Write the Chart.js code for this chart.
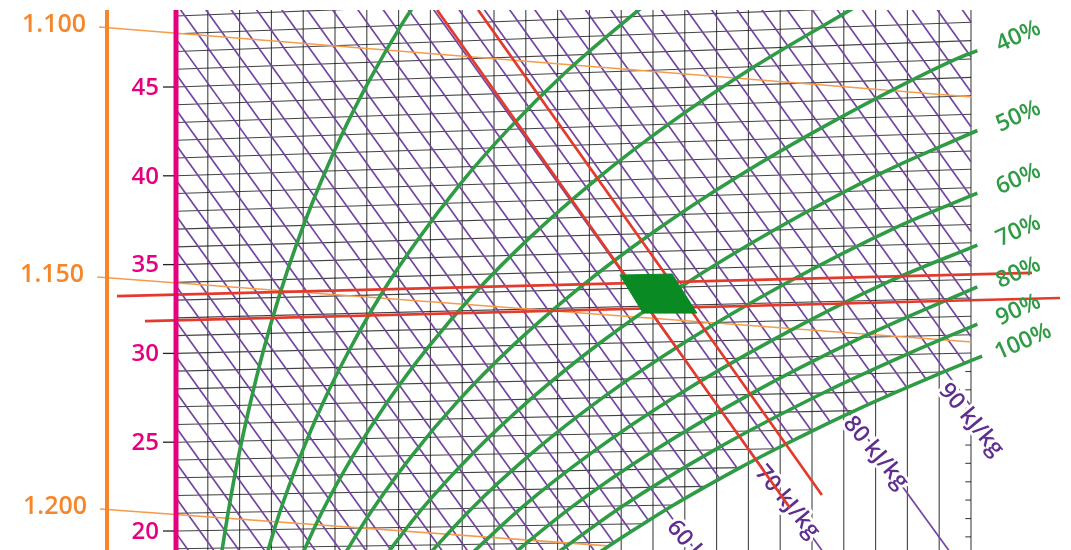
<!DOCTYPE html>
<html>
<head>
<meta charset="utf-8">
<title>h-x Diagramm</title>
<script src="https://cdn.jsdelivr.net/npm/chart.js@4.4.1/dist/chart.umd.min.js"></script>
<style>
  html, body { margin: 0; padding: 0; background: #ffffff; }
  canvas { display: block; }
</style>
</head>
<body>
<canvas id="hx" width="1071" height="550"></canvas>
<script>
// Section of a Mollier h-x diagram.
// x: humidity ratio (g/kg dry air), y: temperature axis (°C).

// Temperature axis labels (°C)
const tempTicks = [20, 25, 30, 35, 40, 45];

// Isotherms: start on the temperature axis (x = 0), end at saturation or at the chart edge
const isoTemps = [19, 20, 21, 22, 23, 24, 25, 26, 27, 28, 29, 30, 31, 32, 33, 34, 35, 36, 37, 38, 39, 40, 41, 42, 43, 44, 45, 46, 47, 48, 49];
const isoEndX = [13.79, 14.70, 15.65, 16.67, 17.74, 18.88, 20.08, 21.35, 22.70, 24.12,
                 25, 25, 25, 25, 25, 25, 25, 25, 25, 25, 25, 25, 25, 25, 25, 25, 25, 25, 25, 25, 25];
const isoEndY = [19.37, 20.41, 21.46, 22.51, 23.57, 24.63, 25.70, 26.78, 27.86, 28.95,
                 30.02, 31.05, 32.09, 33.12, 34.16, 35.19, 36.23, 37.26, 38.30, 39.33, 40.37,
                 41.40, 42.44, 43.47, 44.51, 45.54, 46.58, 47.61, 48.65, 49.68, 50.72];

// Temperature marks on the right border, below saturation
const rightTickY = [19.67, 20.70, 21.74, 22.77, 23.81, 24.84, 25.88, 26.91, 27.95, 28.98];

// Humidity ratio grid (g/kg)
const humidityGrid = [1, 2, 3, 4, 5, 6, 7, 8, 9, 10, 11, 12, 13, 14, 15, 16, 17, 18, 19, 20, 21, 22, 23, 24, 25];

// Enthalpy lines (kJ/kg), every 2 kJ/kg
const enthalpyValues = [20, 22, 24, 26, 28, 30, 32, 34, 36, 38, 40, 42, 44, 46, 48, 50, 52, 54, 56, 58, 60,
                        62, 64, 66, 68, 70, 72, 74, 76, 78, 80, 82, 84, 86, 88, 90, 92, 94, 96, 98, 100,
                        102, 104, 106, 108, 110, 112, 114, 116];
const enthalpyStartY = [19.88, 21.87, 23.86, 25.84, 27.83, 29.82, 31.81, 33.80, 35.79, 37.77, 39.76,
                        41.75, 43.74, 45.73, 47.71, 49.70, 51.69, 53.68, 55.67, 57.65, 59.64, 61.63,
                        63.62, 65.61, 67.59, 69.58, 71.57, 73.56, 75.55, 77.53, 79.52, 81.51, 83.50,
                        85.49, 87.48, 89.46, 91.45, 93.44, 95.43, 97.42, 99.40, 101.39, 103.38,
                        105.37, 107.36, 109.34, 111.33, 113.32, 115.31];
const enthalpyEndX = [0.746, 1.536, 2.325, 3.114, 3.903, 4.692, 5.481, 6.270, 7.059, 7.849, 8.638,
                      9.427, 10.216, 11.005, 11.794, 12.583, 13.23, 13.77, 14.31, 14.86, 15.41, 15.97,
                      16.53, 17.10, 17.66, 18.24, 18.82, 19.41, 19.99, 20.58, 21.17, 21.78, 22.38,
                      22.98, 23.59, 24.20, 24.80, 25, 25, 25, 25, 25, 25, 25, 25, 25, 25, 25, 25];
const enthalpyEndY = [18.02, 18.04, 18.06, 18.08, 18.10, 18.12, 18.14, 18.16, 18.18, 18.20, 18.22,
                      18.24, 18.26, 18.28, 18.30, 18.32, 18.69, 19.34, 19.96, 20.59, 21.20, 21.79,
                      22.37, 22.94, 23.50, 24.04, 24.58, 25.10, 25.63, 26.13, 26.63, 27.11, 27.60,
                      28.08, 28.54, 29.00, 29.46, 30.95, 32.91, 34.89, 36.86, 38.82, 40.79, 42.76,
                      44.72, 46.69, 48.66, 50.62, 52.59];

// Labelled enthalpy lines continue into the fog region
const kjLabels = [60, 70, 80, 90];
const kjExtEndX = [16.53, 20.47, 24.42, 25.0];
const kjExtEndY = [18.42, 18.52, 18.62, 27.02];
const kjLabelX = [16.45, 19.22, 22.0, 25.0];
const kjLabelY = [18.55, 21.63, 24.4, 26.25];

// Relative humidity curves
const rhLabels = ['10%', '20%', '30%', '40%', '50%', '60%', '70%', '80%', '90%', '100%'];
const rh10X = [1.37, 1.64, 1.95, 2.32, 2.74, 3.23, 3.80, 4.46, 5.21, 6.08, 7.08, 7.84];
const rh10Y = [18.03, 21.05, 24.06, 27.08, 30.11, 33.14, 36.19, 39.24, 42.30, 45.37, 48.47, 50.54];
const rh20X = [2.75, 3.27, 3.89, 4.61, 5.46, 6.44, 7.59, 8.91, 10.44, 12.21, 14.28, 15.80];
const rh20Y = [18.06, 21.09, 24.12, 27.17, 30.22, 33.29, 36.37, 39.48, 42.60, 45.76, 48.94, 51.09];
const rh30X = [3.82, 4.61, 5.55, 6.64, 7.92, 9.41, 11.15, 13.16, 15.49, 18.19, 21.29];
const rh30Y = [18.10, 21.14, 24.19, 27.25, 30.33, 33.43, 36.56, 39.72, 42.91, 46.15, 49.43];
const rh40X = [5.11, 6.17, 7.42, 8.88, 10.60, 12.61, 14.95, 17.67, 20.83, 24.49, 25.2];
const rh40Y = [18.13, 21.18, 24.25, 27.34, 30.45, 33.58, 36.75, 39.96, 43.22, 46.54, 47.05];
const rh50X = [6.40, 7.73, 9.30, 11.15, 13.31, 15.85, 18.81, 22.25, 25.2];
const rh50Y = [18.16, 21.23, 24.31, 27.42, 30.56, 33.73, 36.95, 40.21, 42.55];
const rh60X = [7.70, 9.30, 11.19, 13.42, 16.04, 19.11, 22.70, 25.2];
const rh60Y = [18.19, 21.27, 24.38, 27.51, 30.67, 33.88, 37.14, 39.02];
const rh70X = [9.00, 10.87, 13.10, 15.72, 18.80, 22.41, 25.2];
const rh70Y = [18.23, 21.32, 24.44, 27.59, 30.79, 34.04, 36.10];
const rh80X = [10.30, 12.46, 15.01, 18.03, 21.58, 25.2];
const rh80Y = [18.26, 21.37, 24.50, 27.68, 30.91, 33.75];
const rh90X = [11.62, 14.05, 16.94, 20.35, 22.96, 25.2];
const rh90Y = [18.29, 21.41, 24.57, 27.77, 29.93, 31.65];
const rh100X = [12.93, 13.79, 14.70, 15.65, 16.67, 17.74, 18.88, 20.08, 21.35, 22.70, 24.12, 25.35];
const rh100Y = [18.33, 19.37, 20.41, 21.46, 22.51, 23.57, 24.63, 25.70, 26.78, 27.86, 28.95, 29.85];

// Density lines (kg/m³)
const densityLabels = ['1.100', '1.150', '1.200'];
const densityStartX = [-2.42, -2.48, -2.39];
const densityStartY = [48.38, 34.30, 21.24];
const densityEndX = [25.03, 25.03, 13.58];
const densityEndY = [44.44, 30.64, 19.16];

// Process lines
const redStartX = [-1.855, -0.975, 8.21, 9.50];
const redStartY = [33.23, 31.82, 49.34, 49.34];
const redEndX = [26.92, 27.80, 19.31, 20.31];
const redEndY = [34.53, 33.12, 21.30, 22.03];

// Target zone
const zoneX = [13.96, 15.60, 16.38, 14.69];
const zoneY = [34.41, 34.47, 32.27, 32.27];

// Axis positions (g/kg)
const tempAxisX = 0;
const densityAxisX = -2.17;

// ---- build datasets ----
const X_MIN = -5.535, X_MAX = 28.145;
const Y_MIN = 18.93, Y_MAX = 49.336;

const datasets = [];
function addLine(points, style) {
  datasets.push(Object.assign({
    data: points, showLine: true, pointRadius: 0, pointHoverRadius: 0,
    fill: false, tension: 0, clip: 0
  }, style));
}
const gridStyle = { borderColor: 'rgba(20,20,20,0.8)', borderWidth: 1.1, order: 90 };
const purpleStyle = { borderColor: '#7245a0', borderWidth: 1.7, order: 80 };
const orangeStyle = { borderColor: '#f59c4c', borderWidth: 1.6, order: 70 };
const greenStyle = { borderColor: '#2f9b45', borderWidth: 3.6, order: 60, cubicInterpolationMode: 'monotone' };
const redStyle = { borderColor: '#e23b2d', borderWidth: 2.7, order: 50 };

humidityGrid.forEach(n => addLine([{ x: n, y: Y_MIN }, { x: n, y: Y_MAX }], gridStyle));
isoTemps.forEach((t, i) => addLine([{ x: 0, y: t }, { x: isoEndX[i], y: isoEndY[i] }], gridStyle));
rightTickY.forEach(v => addLine([{ x: 24.82, y: v }, { x: 25, y: v }], gridStyle));

enthalpyValues.forEach((h, i) =>
  addLine([{ x: 0, y: enthalpyStartY[i] }, { x: enthalpyEndX[i], y: enthalpyEndY[i] }], purpleStyle));
kjLabels.forEach((h, j) => {
  const i = enthalpyValues.indexOf(h);
  addLine([{ x: enthalpyEndX[i], y: enthalpyEndY[i] }, { x: kjExtEndX[j], y: kjExtEndY[j] }], purpleStyle);
});

// layer for the enthalpy labels (drawn right after the enthalpy lines)
datasets.push({ data: [], labelLayer: true, order: 75, showLine: false, pointRadius: 0 });

densityLabels.forEach((d, i) =>
  addLine([{ x: densityStartX[i], y: densityStartY[i] }, { x: densityEndX[i], y: densityEndY[i] }], orangeStyle));

const rhCurves = [[rh10X, rh10Y], [rh20X, rh20Y], [rh30X, rh30Y], [rh40X, rh40Y], [rh50X, rh50Y],
                  [rh60X, rh60Y], [rh70X, rh70Y], [rh80X, rh80Y], [rh90X, rh90Y], [rh100X, rh100Y]];
rhCurves.forEach(([xs, ys]) => addLine(xs.map((v, k) => ({ x: v, y: ys[k] })), greenStyle));

redStartX.forEach((v, i) =>
  addLine([{ x: v, y: redStartY[i] }, { x: redEndX[i], y: redEndY[i] }], redStyle));

addLine(zoneX.concat([zoneX[0]]).map((v, k) => ({ x: v, y: zoneY.concat([zoneY[0]])[k] })),
  { borderColor: '#0a8a22', backgroundColor: '#0a8a22', borderWidth: 1, fill: 'shape', order: 40 });

addLine([{ x: densityAxisX, y: Y_MIN }, { x: densityAxisX, y: Y_MAX }], { borderColor: '#f5862a', borderWidth: 4, order: 30 });
addLine([{ x: tempAxisX, y: Y_MIN }, { x: tempAxisX, y: Y_MAX }], { borderColor: '#e6007e', borderWidth: 5, order: 30 });

// ---- text ----
const FONT = '"Open Sans", "Noto Sans", sans-serif';

function drawKjLabels(chart) {
  const { ctx, scales: { x, y } } = chart;
  ctx.save();
  ctx.font = '600 23px ' + FONT;
  ctx.textAlign = 'center';
  ctx.textBaseline = 'middle';
  kjLabels.forEach((h, j) => {
    ctx.save();
    ctx.translate(x.getPixelForValue(kjLabelX[j]), y.getPixelForValue(kjLabelY[j]));
    ctx.rotate(50 * Math.PI / 180);
    const txt = h + ' kJ/kg';
    ctx.lineWidth = 6;
    ctx.lineJoin = 'round';
    ctx.strokeStyle = '#ffffff';
    ctx.strokeText(txt, 0, 0);
    ctx.fillStyle = '#5e2f90';
    ctx.fillText(txt, 0, 0);
    ctx.restore();
  });
  ctx.restore();
}

const chartText = {
  id: 'chartText',
  afterDatasetDraw(chart, args) {
    if (chart.data.datasets[args.index].labelLayer) drawKjLabels(chart);
  },
  afterDatasetsDraw(chart) {
    const { ctx, scales: { x, y } } = chart;
    ctx.save();
    ctx.font = '600 24px ' + FONT;
    ctx.textBaseline = 'middle';

    // temperature axis ticks and labels
    const ax = x.getPixelForValue(tempAxisX);
    tempTicks.forEach(t => {
      const py = y.getPixelForValue(t);
      ctx.strokeStyle = '#222';
      ctx.lineWidth = 1.3;
      ctx.beginPath();
      ctx.moveTo(ax - 13, py);
      ctx.lineTo(ax - 2, py);
      ctx.stroke();
      ctx.fillStyle = '#e6007e';
      ctx.textAlign = 'right';
      ctx.fillText(String(t), ax - 17, py + 1);
    });

    // density labels
    ctx.font = '600 25px ' + FONT;
    ctx.fillStyle = '#f5862a';
    ctx.textAlign = 'right';
    densityLabels.forEach((d, i) => {
      ctx.fillText(d, x.getPixelForValue(densityStartX[i]) - 13, y.getPixelForValue(densityStartY[i]) - 2);
    });

    // relative humidity labels at the right end of the curves
    ctx.font = '600 23px ' + FONT;
    ctx.fillStyle = '#2f9b45';
    ctx.textAlign = 'center';
    rhCurves.forEach(([xs, ys], i) => {
      if (i < 3) return;
      const px = x.getPixelForValue(xs[xs.length - 1]);
      const py = y.getPixelForValue(ys[ys.length - 1]);
      ctx.save();
      ctx.translate(px + 41, py - 14);
      ctx.rotate(-24 * Math.PI / 180);
      ctx.fillText(rhLabels[i], 0, 0);
      ctx.restore();
    });
    ctx.restore();
  }
};

new Chart(document.getElementById('hx'), {
  type: 'scatter',
  data: { datasets },
  options: {
    responsive: false,
    animation: false,
    devicePixelRatio: 1,
    events: [],
    layout: { padding: { top: 10, left: 0, right: 0, bottom: 0 } },
    plugins: { legend: { display: false }, tooltip: { enabled: false } },
    scales: {
      x: { type: 'linear', min: X_MIN, max: X_MAX, display: false },
      y: { type: 'linear', min: Y_MIN, max: Y_MAX, display: false }
    }
  },
  plugins: [chartText]
});
</script>
</body>
</html>
